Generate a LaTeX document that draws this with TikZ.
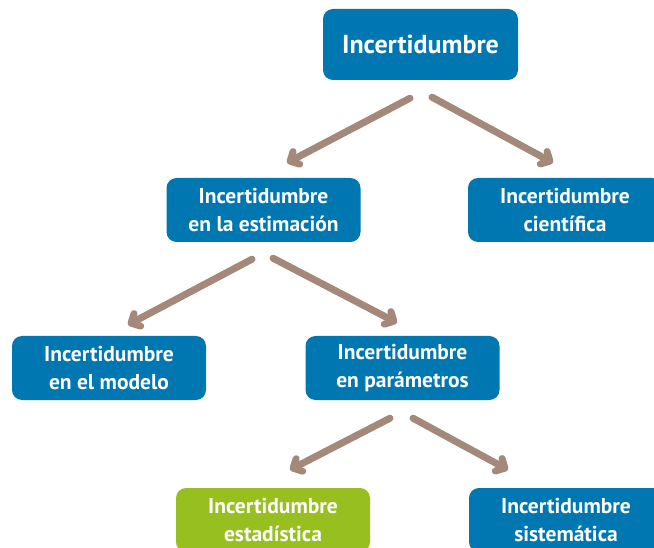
\documentclass[tikz,border=0pt]{standalone}
\usepackage{fontspec}
\setmainfont{PT Sans}
\usetikzlibrary{arrows.meta,calc}
\definecolor{boxblue}{HTML}{0077B0}
\definecolor{boxgreen}{HTML}{97BF1F}
\definecolor{arrowbrown}{HTML}{A4897A}
\tikzset{
  box/.style={rectangle, rounded corners=10pt, fill=boxblue, text=white,
    minimum width=194pt, minimum height=64pt, inner sep=0pt, align=center,
    font=\bfseries\fontsize{21.5}{28}\selectfont},
  greenbox/.style={box, fill=boxgreen},
  topbox/.style={box, minimum width=195pt, minimum height=71pt,
    font=\bfseries\fontsize{26}{28}\selectfont},
  arr/.style={draw=arrowbrown, line width=7pt, line cap=round,
    -{Straight Barb[angle=90:10pt, round]}}
}
\begin{document}
\begin{tikzpicture}[x=1pt,y=-1pt]
\useasboundingbox (0,0) rectangle (654,548);
\clip (0,0) rectangle (654,548);
\node[topbox] (top) at (420.5,44.5) {Incertidumbre};
\node[box] (est) at (263.5,210) {Incertidumbre\\en la estimación};
\node[box] (cie) at (565,210) {Incertidumbre\\científica};
\node[box] (mod) at (109,368) {Incertidumbre\\en el modelo};
\node[box] (par) at (402.5,368) {Incertidumbre\\en parámetros};
\node[greenbox] (sta) at (273,520) {Incertidumbre\\estadística};
\node[box] (sis) at (566,520) {Incertidumbre\\sistemática};
\coordinate (t1) at ($(top.south)+(-10.5,18)$);
\coordinate (t2) at ($(top.south)+(11.5,17)$);
\coordinate (e1) at ($(est.south)+(-11.5,17)$);
\coordinate (e2) at ($(est.south)+(9.5,16)$);
\coordinate (p1) at ($(par.south)+(-12.5,18)$);
\coordinate (p2) at ($(par.south)+(10.5,18)$);
\coordinate (h1) at ($(est.north)+(23.5,-15)$);
\coordinate (h2) at ($(cie.north)+(-12,-15)$);
\coordinate (h3) at ($(mod.north)+(19,-11)$);
\coordinate (h4) at ($(par.north)+(-5.5,-13)$);
\coordinate (h5) at ($(sta.north)+(17,-18)$);
\coordinate (h6) at ($(sis.north)+(-58,-18)$);
\draw[arr] (t1) -- (h1);
\draw[arr] (t2) -- (h2);
\draw[arr] (e1) -- (h3);
\draw[arr] (e2) -- (h4);
\draw[arr] (p1) -- (h5);
\draw[arr] (p2) -- (h6);
\end{tikzpicture}
\end{document}
